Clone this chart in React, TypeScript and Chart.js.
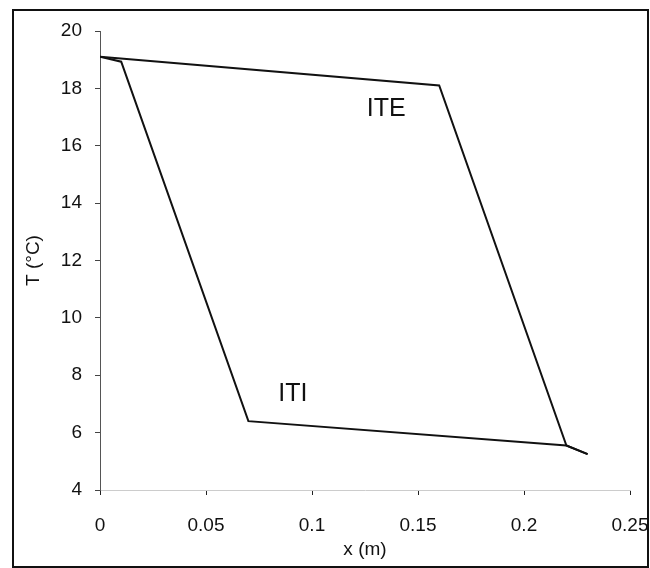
import React, { useEffect, useRef } from "react";
import { Chart, registerables } from "chart.js";

Chart.register(...registerables);

// Data
const xITE = [0, 0.16, 0.22, 0.23];
const tITE = [19.1, 18.1, 5.55, 5.25];
const xITI = [0, 0.01, 0.07, 0.22, 0.23];
const tITI = [19.1, 18.93, 6.4, 5.55, 5.25];

const yTicks = [4, 6, 8, 10, 12, 14, 16, 18, 20];
const xTicks = [0, 0.05, 0.1, 0.15, 0.2, 0.25];

const labels = [
  { text: "ITE", x: 0.135, y: 17.28 },
  { text: "ITI", x: 0.091, y: 7.35 },
];

const FONT = "Arial, 'Liberation Sans', sans-serif";

export default function App() {
  const ref = useRef<HTMLCanvasElement | null>(null);

  useEffect(() => {
    if (!ref.current) return;
    const toPts = (xs: number[], ys: number[]) => xs.map((x, i) => ({ x, y: ys[i] }));

    const decor = {
      id: "decor",
      afterDraw(chart: any) {
        const ctx = chart.ctx;
        const xs = chart.scales.x;
        const ys = chart.scales.y;
        ctx.save();
        // outer frame
        ctx.strokeStyle = "#111";
        ctx.lineWidth = 2;
        ctx.strokeRect(13, 10, 635, 557);
        // annotations
        ctx.fillStyle = "#111";
        ctx.font = "25px " + FONT;
        ctx.textAlign = "center";
        ctx.textBaseline = "middle";
        labels.forEach((l) => {
          ctx.fillText(l.text, xs.getPixelForValue(l.x), ys.getPixelForValue(l.y));
        });
        ctx.restore();
      },
    };

    const chart = new Chart(ref.current, {
      type: "scatter",
      data: {
        datasets: [
          {
            label: "ITE",
            data: toPts(xITE, tITE),
            showLine: true,
            borderColor: "#111",
            borderWidth: 2,
            pointRadius: 0,
            tension: 0,
          },
          {
            label: "ITI",
            data: toPts(xITI, tITI),
            showLine: true,
            borderColor: "#111",
            borderWidth: 2,
            pointRadius: 0,
            tension: 0,
          },
        ],
      },
      options: {
        animation: false,
        responsive: false,
        maintainAspectRatio: false,
        layout: { padding: { left: 0, top: 31, right: 20, bottom: 0 } },
        plugins: { legend: { display: false }, tooltip: { enabled: false } },
        scales: {
          x: {
            type: "linear",
            min: 0,
            max: 0.25,
            afterBuildTicks: (s: any) => {
              s.ticks = xTicks.map((v) => ({ value: v }));
            },
            afterFit: (s: any) => {
              s.height = 78;
              s.paddingLeft = 0;
              s.paddingRight = 0;
            },
            ticks: {
              color: "#111",
              font: { family: FONT, size: 19 },
              padding: 19,
              maxRotation: 0,
              callback: (v: any) => String(+Number(v).toFixed(2)),
            },
            grid: {
              drawOnChartArea: false,
              drawTicks: true,
              tickLength: 5,
              color: "#222",
              lineWidth: 1,
            },
            border: { display: true, color: "#ccc", width: 1, dash: [1, 5] },
            title: {
              display: true,
              text: "x (m)",
              color: "#111",
              font: { family: FONT, size: 19 },
              padding: { top: 0, bottom: 7 },
            },
          },
          y: {
            type: "linear",
            min: 4,
            max: 20,
            afterBuildTicks: (s: any) => {
              s.ticks = yTicks.map((v) => ({ value: v }));
            },
            afterFit: (s: any) => {
              s.width = 100;
              s.paddingTop = 0;
              s.paddingBottom = 0;
            },
            ticks: {
              color: "#111",
              font: { family: FONT, size: 19 },
              padding: 13,
            },
            grid: {
              drawOnChartArea: false,
              drawTicks: true,
              tickLength: 5,
              color: "#444",
              lineWidth: 1,
            },
            border: { display: true, color: "#555", width: 1 },
            title: {
              display: true,
              text: "T (°C)",
              color: "#111",
              font: { family: FONT, size: 19 },
              padding: { top: 22, bottom: 0 },
            },
          },
        },
      },
      plugins: [decor],
    } as any);

    return () => chart.destroy();
  }, []);

  return (
    <div style={{ position: "fixed", left: 0, top: 0, width: 650, height: 568, background: "#fff" }}>
      <canvas ref={ref} width={650} height={568} style={{ width: 650, height: 568, display: "block" }} />
    </div>
  );
}
